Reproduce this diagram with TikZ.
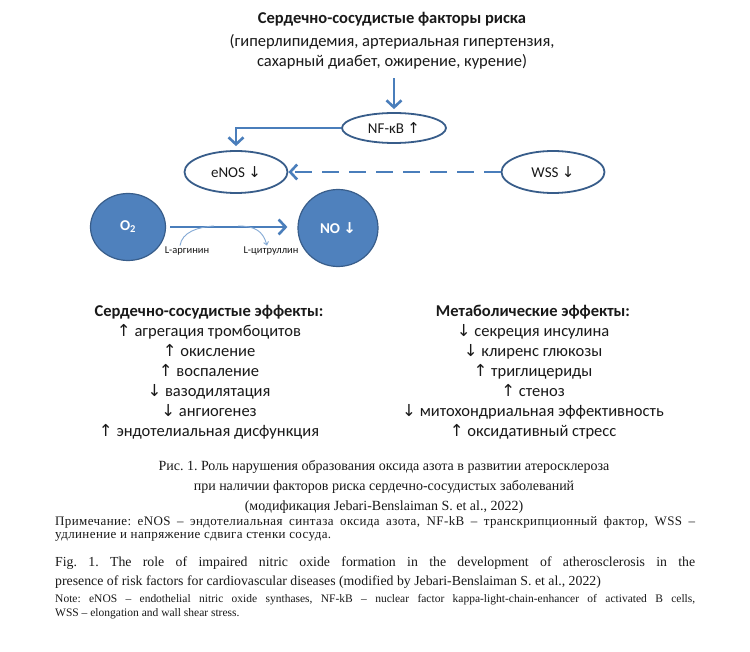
\documentclass[tikz,border=0pt]{standalone}
\usepackage{fontspec}
\setmainfont{Liberation Serif}
\newfontfamily\calibri{Carlito}
\newfontfamily\arrowfont{DejaVu Sans}
\newfontfamily\notefont[LetterSpace=3]{Liberation Serif}
\frenchspacing
\usetikzlibrary{
    arrows.meta,
    positioning,
    shapes.geometric
}
\definecolor{ink}{RGB}{25,25,25}
\definecolor{flowblue}{RGB}{74,126,187}
\definecolor{rimblue}{RGB}{56,93,138}
\definecolor{discfill}{RGB}{79,129,189}
\definecolor{thinblue}{RGB}{130,168,212}
\newcommand{\incr}{{\arrowfont ↑}}
\newcommand{\decr}{{\arrowfont ↓}}
\tikzset{
    factor/.style={
        ellipse,
        draw=rimblue,
        line width=1.8pt,
        fill=white,
        minimum width=103pt,
        minimum height=42pt,
        inner sep=0pt,
        text=ink,
        font=\calibri\fontsize{15}{18}\selectfont
    },
    disc/.style={
        ellipse,
        draw=rimblue,
        line width=1.2pt,
        fill=discfill,
        inner sep=0pt,
        text=white,
        font=\calibri\bfseries\fontsize{15}{18}\selectfont
    },
    link/.style={
        -{Straight Barb[length=7pt,width=15pt]},
        draw=flowblue,
        line width=2.6pt
    },
    weaklink/.style={
        link,
        dash pattern=on 17pt off 10pt
    },
    side/.style={
        draw=thinblue,
        line width=0.9pt
    },
    substrate/.style={
        text=ink,
        inner sep=1pt,
        font=\calibri\fontsize{10.5}{12}\selectfont
    },
    effects/.style={
        align=center,
        text=ink,
        font=\calibri\fontsize{16.5}{20}\selectfont
    },
    caption/.style={
        align=center,
        text=ink,
        font=\fontsize{14}{20}\selectfont
    },
    captionline/.style={
        anchor=west,
        inner sep=0pt,
        text=ink,
        font=\fontsize{13.8}{16}\selectfont
    },
    noteline/.style={
        anchor=west,
        inner sep=0pt,
        text=ink,
        font=\fontsize{11.5}{13}\selectfont
    },
    rusnote/.style={
        noteline,
        font=\notefont\fontsize{13}{14}\selectfont
    }
}
\begin{document}
\begin{tikzpicture}[x=1pt, y=-1pt]

\useasboundingbox[fill=white] (0,0) rectangle (750,652);

% === TOP: risk factors ===
\node[effects] (risk) at (392,41) {%
    \textbf{Сердечно-сосудистые факторы риска}\\[3pt]
    (гиперлипидемия, артериальная гипертензия,\\
    сахарный диабет, ожирение, курение)};

\node[factor, minimum width=104pt, minimum height=30pt] (nfkb) at (394,128) {NF-κB \incr};
\node[factor] (enos) at (236,172) {eNOS \decr};
\node[factor] (wss) at (553,172) {WSS \decr};

\draw[link, shorten <=5pt, shorten >=3pt] (nfkb.north |- risk.south) -- (nfkb.north);
\draw[link, shorten >=4pt] (nfkb.west) -| (enos.north);
\draw[weaklink] (wss.west) -- (enos.east);

% === O2 -> NO ===
\node[disc, minimum width=75pt, minimum height=67pt] (o2) at (128,227) {O\textsubscript{2}};
\node[disc, minimum width=80pt, minimum height=77pt] (no) at (338,228) {NO \decr};

\draw[link, shorten <=4pt, shorten >=10pt] (o2.east) -- (o2.east -| no.west);

\coordinate (join) at (214,226);
\coordinate (split) at (238,226);

\node[substrate] (arg) at (187,251) {L-аргинин};
\node[substrate] (cit) at (271,251) {L-цитруллин};

\draw[side] ([xshift=-7pt]arg.north) .. controls (182,232) and (198,227) .. (join);
\draw[side, -{Straight Barb[length=3pt,width=5pt]}] (split) .. controls (255,226) and (263,231) .. ([xshift=-4pt]cit.north);

% === EFFECTS ===
\node[effects] (cvfx) at (209,372) {%
    \textbf{Сердечно-сосудистые эффекты:}\\
    \incr\ агрегация тромбоцитов\\
    \incr\ окисление\\
    \incr\ воспаление\\
    \decr\ вазодилятация\\
    \decr\ ангиогенез\\
    \incr\ эндотелиальная дисфункция};

\node[effects] (metfx) at (533,372) {%
    \textbf{Метаболические эффекты:}\\
    \decr\ секреция инсулина\\
    \decr\ клиренс глюкозы\\
    \incr\ триглицериды\\
    \incr\ стеноз\\
    \decr\ митохондриальная эффективность\\
    \incr\ оксидативный стресс};

% === CAPTION ===
\node[caption] (cap) at (384,487) {%
    Рис. 1. Роль нарушения образования оксида азота в развитии атеросклероза\\
    при наличии факторов риска сердечно-сосудистых заболеваний\\
    (модификация Jebari-Benslaiman S. et al., 2022)};

\node[rusnote] (noteru) at (55,522) {\makebox[640pt][s]{Примечание: eNOS – эндотелиальная синтаза оксида азота, NF-kB – транскрипционный фактор, WSS –}};
\node[rusnote] (noteru2) at (55,537) {удлинение и напряжение сдвига стенки сосуда.};

\node[captionline] (figen) at (55,563) {\makebox[640pt][s]{Fig. 1. The role of impaired nitric oxide formation in the development of atherosclerosis in the}};
\node[captionline] (figen2) at (55,582) {presence of risk factors for cardiovascular diseases (modified by Jebari-Benslaiman S. et al., 2022)};

\node[noteline] (noteen) at (55,600) {\makebox[640pt][s]{Note: eNOS – endothelial nitric oxide synthases, NF-kB – nuclear factor kappa-light-chain-enhancer of activated B cells,}};
\node[noteline] (noteen2) at (55,614) {WSS – elongation and wall shear stress.};

\end{tikzpicture}
\end{document}
